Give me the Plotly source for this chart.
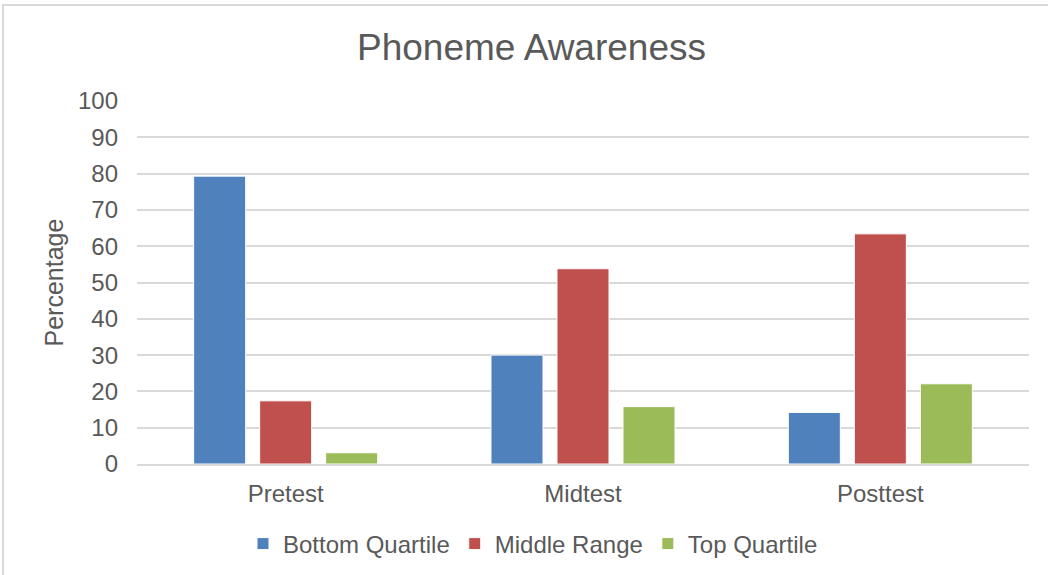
import plotly.graph_objects as go

categories = ["Pretest", "Midtest", "Posttest"]
bottom_quartile = [79.3, 30.0, 14.2]
middle_range = [17.4, 53.8, 63.4]
top_quartile = [3.1, 15.8, 22.1]
series_names = ["Bottom Quartile", "Middle Range", "Top Quartile"]
series_colors = ["#4F81BD", "#C0504D", "#9BBB59"]
y_ticks = list(range(0, 101, 10))

TEXT = "#595959"
FONT = "Liberation Sans, Arial, sans-serif"

fig = go.Figure()
for name, vals, col in zip(series_names, [bottom_quartile, middle_range, top_quartile], series_colors):
    fig.add_trace(go.Bar(
        x=categories, y=vals, name=name,
        marker=dict(color=col, line=dict(color="white", width=1)),
    ))

W, H = 1048, 575
L, R, T, B = 137, 1029, 101, 464

fig.update_layout(
    width=W, height=H,
    margin=dict(l=L, r=W - R, t=T, b=H - B, pad=0, autoexpand=False),
    paper_bgcolor="white", plot_bgcolor="white",
    barmode="group", bargap=0.334, bargroupgap=0.212,
    font=dict(family=FONT, color=TEXT, size=24),
    title=dict(text="Phoneme Awareness", x=531.5 / W, xref="container",
               xanchor="center", y=1 - 47.5 / H, yanchor="middle",
               font=dict(size=37, color=TEXT, family=FONT)),
    showlegend=True,
    legend=dict(orientation="h", x=(533 - L) / (R - L), xanchor="center",
                y=(B - 544) / (B - T), yanchor="middle",
                font=dict(size=24, color=TEXT, family=FONT),
                itemwidth=30, traceorder="normal"),
    xaxis=dict(showgrid=False, showline=True, linecolor="#D9D9D9", linewidth=2,
               ticks="", tickfont=dict(size=24, color=TEXT), ticklabelstandoff=7),
    yaxis=dict(range=[0, 100], tickvals=y_ticks, showgrid=True, gridcolor="#D9D9D9",
               gridwidth=2, zeroline=False, showline=False, ticks="",
               tickfont=dict(size=24, color=TEXT), ticklabelstandoff=18),
    annotations=[dict(text="Percentage", xref="paper", yref="paper",
                      x=(53 - L) / (R - L), y=0.5, xanchor="center", yanchor="middle",
                      textangle=-90, showarrow=False,
                      font=dict(size=25, color=TEXT, family=FONT))],
    shapes=[dict(type="rect", xref="paper", yref="paper",
                 x0=(3 - L) / (R - L), x1=(1060 - L) / (R - L),
                 y0=(B - 590) / (B - T), y1=(B - 5) / (B - T),
                 line=dict(color="#D9D9D9", width=2), fillcolor="rgba(0,0,0,0)", layer="below")],
)

fig.write_html("out.html", config={"displayModeBar": False},
               post_script="document.body.style.margin='0';document.body.style.overflow='hidden';")
